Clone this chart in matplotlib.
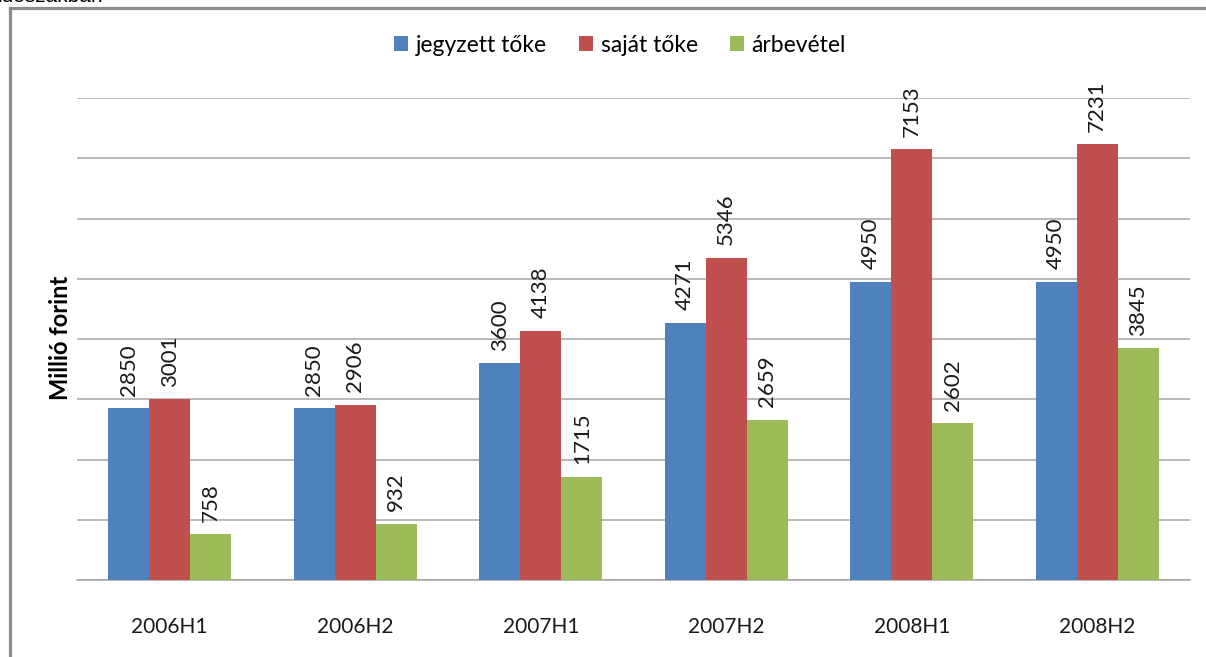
import matplotlib
matplotlib.use("Agg")
import matplotlib.pyplot as plt
from matplotlib.lines import Line2D
import numpy as np

categories = ["2006H1", "2006H2", "2007H1", "2007H2", "2008H1", "2008H2"]
jegyzett = [2850, 2850, 3600, 4271, 4950, 4950]
sajat = [3001, 2906, 4138, 5346, 7153, 7231]
arbevetel = [758, 932, 1715, 2659, 2602, 3845]
series_names = ["jegyzett tőke", "saját tőke", "árbevétel"]
colors = ["#4F81BD", "#C0504D", "#9BBB59"]

plt.rcParams['font.family'] = ['Lato', 'DejaVu Sans']

W, H = 1206, 657
fig = plt.figure(figsize=(W / 100, H / 100), dpi=100)
fig.patch.set_facecolor("white")

def fx(px):
    return px / W

def fy(py):
    return 1 - py / H

ax = fig.add_axes([fx(77), fy(580), fx(1190) - fx(77), fy(98) - fy(580)])
ax.set_facecolor("white")

x = np.arange(len(categories))
bw = 0.221
data = [jegyzett, sajat, arbevetel]
for k, (vals, name, c) in enumerate(zip(data, series_names, colors)):
    bars = ax.bar(x + (k - 1) * bw, vals, width=bw, color=c, label=name, zorder=3)
    for b, v in zip(bars, vals):
        ax.annotate(str(v), (b.get_x() + b.get_width() / 2, v),
                    xytext=(0, 9), textcoords="offset points",
                    rotation=90, ha="center", va="bottom", fontsize=16,
                    color="#1a1a1a")

ax.set_xlim(-0.5, len(categories) - 0.5)
ax.set_ylim(0, 8000)
ax.set_yticks(np.arange(0, 8001, 1000))
ax.yaxis.grid(True, color="#A6A6A6", linewidth=1.1, zorder=0)
ax.tick_params(axis="y", left=False, labelleft=False)
ax.tick_params(axis="x", bottom=False, labelsize=15, pad=23, colors="#1a1a1a")
ax.set_xticks(x)
ax.set_xticklabels(categories)
for s in ["top", "right", "left"]:
    ax.spines[s].set_visible(False)
ax.spines["bottom"].set_color("#A6A6A6")
ax.spines["bottom"].set_linewidth(1.1)

fig.text(fx(60), fy(338), "Millió forint", rotation=90, ha="center", va="center",
         fontsize=17, fontweight="bold", color="black")

fig.legend(loc="center", bbox_to_anchor=(fx(620), fy(45)), ncol=3, frameon=False,
           fontsize=16.5, handlelength=0.6, handleheight=0.6, handletextpad=0.35,
           columnspacing=1.4)

# partial caption text at top, cut off as in the reference
fig.text(fx(-2), fy(2.5), "időszakban", ha="left", va="baseline", fontsize=15,
         family=["Liberation Sans", "DejaVu Sans"], color="black")

# outer frame
fig.add_artist(Line2D([fx(10), fx(10)], [fy(8), fy(H + 5)], color="#8C8C8C",
                      linewidth=2.3, transform=fig.transFigure))
fig.add_artist(Line2D([fx(10), fx(W + 5)], [fy(8), fy(8)], color="#8C8C8C",
                      linewidth=2.3, transform=fig.transFigure))

fig.savefig("out.png", dpi=100)
